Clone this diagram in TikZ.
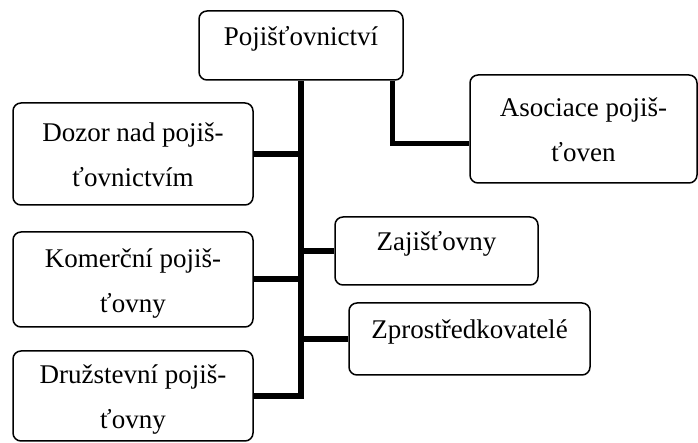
\documentclass[tikz,border=0pt]{standalone}
\usepackage{fontspec}
\setmainfont{Liberation Serif}
\newcommand{\lineonestrut}{\rule{0pt}{13.5pt}}
\newcommand{\linetwostrut}{\rule[-3pt]{0pt}{3pt}}

\begin{document}
\begin{tikzpicture}[x=0.5pt, y=-0.5pt,
                    box/.style={draw, rounded corners=4pt, line width=0.75pt, inner sep=0pt,
                                font=\fontsize{13.5}{22.5}\selectfont},
                    oneline/.style={text height=10pt, text depth=10pt},
                    twoline/.style={align=center},
                    conn/.style={line width=3pt}]
                    \useasboundingbox (0, 0) rectangle (698, 443);

                    \node[box, oneline, minimum width=102pt, minimum height=34.5pt] (ins) at (301, 45.5) {Pojišťovnictví};
                    \node[box, twoline, minimum width=113.5pt, minimum height=54pt] (asoc) at (583.5, 129) {\lineonestrut Asociace pojiš-\\ťoven\linetwostrut};
                    \node[box, twoline, minimum width=120pt, minimum height=51pt] (dozor) at (133, 154) {\lineonestrut Dozor nad pojiš-\\ťovnictvím\linetwostrut};
                    \node[box, twoline, minimum width=120pt, minimum height=47.5pt] (kom) at (133, 279.5) {\lineonestrut Komerční pojiš-\\ťovny\linetwostrut};
                    \node[box, twoline, minimum width=120pt, minimum height=45pt] (druz) at (133, 396) {\lineonestrut Družstevní pojiš-\\ťovny\linetwostrut};
                    \node[box, oneline, minimum width=101.5pt, minimum height=34pt] (zaj) at (436.5, 251) {Zajišťovny};
                    \node[box, oneline, minimum width=120.5pt, minimum height=36pt] (zpr) at (469.5, 339) {Zprostředkovatelé};

                    % spine
                    \draw[conn] (ins.south) |- (druz.east);
                    \draw[conn] (dozor.east) -- (dozor.east -| ins.south);
                    \draw[conn] (kom.east) -- (kom.east -| ins.south);
                    \draw[conn] (zaj.west) -- (zaj.west -| ins.south);
                    \draw[conn] (zpr.west) -- (zpr.west -| ins.south);

                    \draw[conn, line width=2.5pt] ([xshift=45.5pt]ins.south) |- ([yshift=-7.5pt]asoc.west);
                \end{tikzpicture}
\end{document}
